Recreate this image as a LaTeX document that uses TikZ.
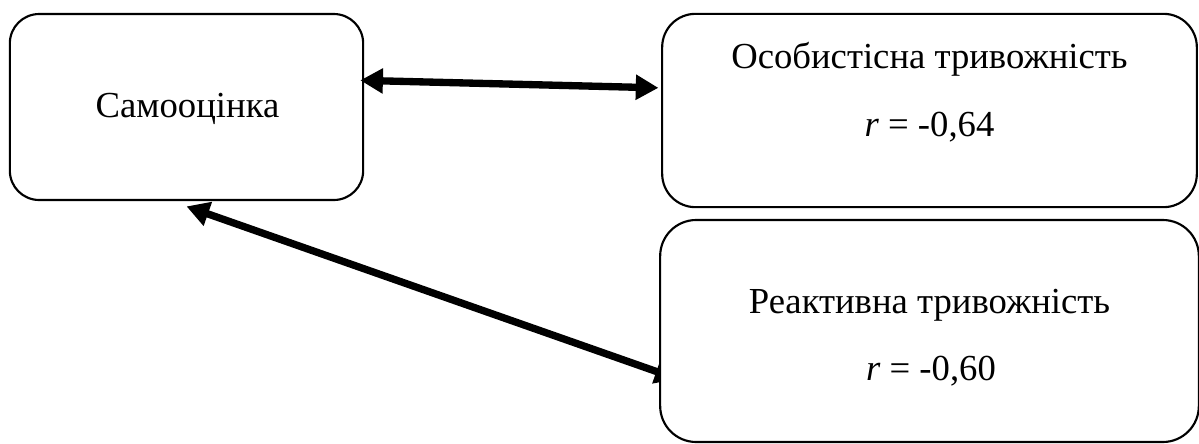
\documentclass[tikz,border=0pt]{standalone}
\usepackage{fontspec}
\setmainfont{Liberation Serif}
\usetikzlibrary{arrows.meta,backgrounds}

\begin{document}
\begin{tikzpicture}[x=0.75pt,y=-0.75pt,
  box/.style={draw, line width=1.6pt, fill=white, rounded corners=22pt, inner sep=0pt},
  lbl/.style={anchor=base, inner sep=0pt, font=\fontsize{27.5}{32}\selectfont},
  link/.style={line width=5.5pt, {Triangle[length=17pt,width=18pt]}-{Triangle[length=17pt,width=18pt]}}]
\useasboundingbox (0,0) rectangle (1199,443);

% boxes
\node[box, minimum width=265pt, minimum height=139.5pt] (self) at (186.5,107) {};
\node[box, rounded corners=25pt, minimum width=401pt, minimum height=145pt] (trait) at (929.5,110.5) {};
\node[box, rounded corners=27pt, minimum width=404pt, minimum height=166.5pt] (react) at (929.5,331) {};

% texts
\node[lbl] (selfT) at (187.5,117) {Самооцінка};
\node[lbl] (traitT) at (929.5,68) {Особистісна тривожність};
\node[lbl] (traitR) at (929.5,136) {\textit{r} = -0,64};
\node[lbl] (reactT) at (929.5,313) {Реактивна тривожність};
\node[lbl] (reactR) at (931,380) {\textit{r} = -0,60};

% links
\draw[link] ([xshift=-3pt,yshift=20pt]self.east) -- ([xshift=-2pt,yshift=17pt]trait.west);
\begin{scope}[on background layer]
\draw[link] ([yshift=-4pt]self.south) -- ([xshift=14pt,yshift=-36pt]react.west);
\end{scope}
\end{tikzpicture}
\end{document}
